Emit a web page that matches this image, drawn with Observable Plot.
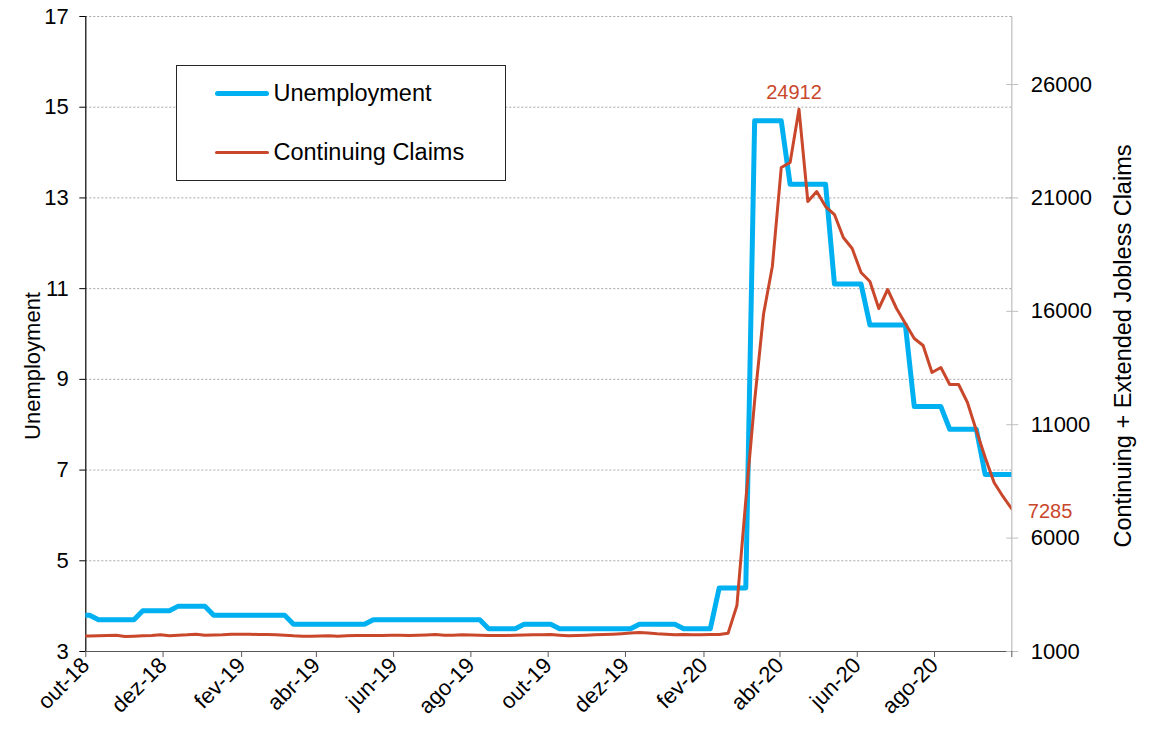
<!DOCTYPE html>
<html>
<head>
<meta charset="utf-8">
<script src="https://cdn.jsdelivr.net/npm/d3@7"></script>
<script src="https://cdn.jsdelivr.net/npm/@observablehq/plot@0.6"></script>
<style>
  html, body { margin: 0; padding: 0; background: #fff; }
  #chart { position: relative; width: 1159px; height: 734px; font-family: "Liberation Sans", Arial, sans-serif; }
  #chart svg { position: absolute; left: 0; top: 0; }
  .legend { position: absolute; left: 175.5px; top: 64.5px; width: 330px; height: 116.5px;
            border: 1px solid #262626; box-sizing: border-box; background: #fff; }
  .legend .item { position: absolute; left: 0; height: 30px; display: flex; align-items: center; }
  .legend .swatch { margin-left: 38px; width: 54px; border-radius: 3px; }
  .legend .name { margin-left: 5px; font-size: 23.5px; color: #000; white-space: nowrap; }
</style>
</head>
<body>
<div id="chart"></div>
<script>
// Weekly observations, one every Thursday starting from this date
const firstWeek = "2018-09-27";

// Unemployment rate (%) attached to each weekly observation
const unemployment = [
  3.8, 3.8,
  3.7, 3.7, 3.7, 3.7, 3.7,
  3.9, 3.9, 3.9, 3.9,
  4.0, 4.0, 4.0, 4.0,
  3.8, 3.8, 3.8, 3.8, 3.8, 3.8, 3.8, 3.8, 3.8,
  3.6, 3.6, 3.6, 3.6, 3.6, 3.6, 3.6, 3.6, 3.6,
  3.7, 3.7, 3.7, 3.7, 3.7, 3.7, 3.7, 3.7, 3.7, 3.7, 3.7, 3.7, 3.7,
  3.5, 3.5, 3.5, 3.5,
  3.6, 3.6, 3.6, 3.6,
  3.5, 3.5, 3.5, 3.5, 3.5, 3.5, 3.5, 3.5, 3.5,
  3.6, 3.6, 3.6, 3.6, 3.6,
  3.5, 3.5, 3.5, 3.5,
  4.4, 4.4, 4.4, 4.4,
  14.7, 14.7, 14.7, 14.7,
  13.3, 13.3, 13.3, 13.3, 13.3,
  11.1, 11.1, 11.1, 11.1,
  10.2, 10.2, 10.2, 10.2, 10.2,
  8.4, 8.4, 8.4, 8.4,
  7.9, 7.9, 7.9, 7.9,
  6.9, 6.9, 6.9, 6.9
];

// Continuing + extended jobless claims (thousands), same weeks
const claims = [
  1675, 1683, 1692, 1705, 1720, 1660, 1675, 1697, 1705, 1735,
  1692, 1720, 1735, 1765, 1720, 1727, 1735, 1765, 1765, 1765,
  1750, 1750, 1742, 1720, 1692, 1675, 1675, 1683, 1692, 1675,
  1692, 1705, 1705, 1705, 1705, 1720, 1720, 1705, 1712, 1727,
  1750, 1720, 1712, 1735, 1727, 1720, 1705, 1705, 1705, 1720,
  1727, 1735, 1742, 1750, 1720, 1697, 1705, 1720, 1742, 1750,
  1765, 1787, 1816, 1838, 1816, 1780, 1765, 1735, 1750, 1742,
  1742, 1750, 1750, 1800, 3028, 7658, 12067, 15870, 17990, 22341,
  22562, 24912, 20842, 21283, 20621, 20268, 19255, 18769, 17710, 17313,
  16124, 16962, 16124, 15463, 14801, 14493, 13302, 13523, 12773, 12773,
  11980, 10745, 9554, 8452, 7835, 7285
];

// Axis settings
const xStart = "2018-10-01";
const xEnd = "2020-10-01";
const monthNames = ["jan", "fev", "mar", "abr", "mai", "jun", "jul", "ago", "set", "out", "nov", "dez"];
const unemploymentTicks = [3, 5, 7, 9, 11, 13, 15, 17];
const claimTicks = [1000, 6000, 11000, 16000, 21000, 26000];
const claimRange = [1000, 29000];

const seriesNames = ["Unemployment", "Continuing Claims"];
const titles = { left: "Unemployment", right: "Continuing + Extended Jobless Claims" };
const colors = { unemployment: "#00b0f0", claims: "#c9472b" };
const FONT = '"Liberation Sans", Arial, sans-serif';

// Claims share the left y scale through a linear rescaling onto [3, 17]
const uDomain = [unemploymentTicks[0], unemploymentTicks[unemploymentTicks.length - 1]];
const toU = v => uDomain[0] + (v - claimRange[0]) / (claimRange[1] - claimRange[0]) * (uDomain[1] - uDomain[0]);
const fromU = u => claimRange[0] + (u - uDomain[0]) / (uDomain[1] - uDomain[0]) * (claimRange[1] - claimRange[0]);

const t0 = new Date(firstWeek + "T00:00:00Z");
const weeks = unemployment.map((u, i) => ({
  date: d3.utcDay.offset(t0, 7 * i),
  unemployment: u,
  claims: claims[i]
}));

const x0 = new Date(xStart + "T00:00:00Z");
const x1 = new Date(xEnd + "T00:00:00Z");
// a tick every two months, starting at the left edge
const xTicks = d3.utcMonth.range(x0, d3.utcDay.offset(x1, 1), 2);
const xLabel = d => (+d === +x1) ? "" : `${monthNames[d.getUTCMonth()]}-${String(d.getUTCFullYear()).slice(2)}`;

const peak = d3.greatest(weeks, d => d.claims);
const last = weeks[weeks.length - 1];

const chart = Plot.plot({
  width: 1159,
  height: 734,
  marginLeft: 85.3,
  marginRight: 147.7,
  marginTop: 16,
  marginBottom: 83,
  style: { fontFamily: FONT, fontSize: "22px", color: "#000", background: "transparent", overflow: "visible" },
  x: { type: "utc", domain: [x0, x1] },
  y: { domain: uDomain },
  marks: [
    Plot.gridY(unemploymentTicks.filter(t => t > uDomain[0]), { stroke: "#a6a6a6", strokeOpacity: 1, strokeDasharray: "2,2" }),
    // axis lines
    Plot.ruleX([x1], { stroke: "#bfbfbf", strokeWidth: 1.2 }),
    Plot.ruleY([uDomain[0]], { stroke: "#595959", strokeWidth: 1.2 }),
    Plot.ruleX([x0], { stroke: "#000", strokeWidth: 1.2 }),
    // left axis
    Plot.axisY(unemploymentTicks, { anchor: "left", tickSize: 6, tickPadding: 11, label: null, fontSize: 22, stroke: "#000" }),
    // right axis (claims)
    Plot.axisY(claimTicks.map(toU), {
      anchor: "right", tickSize: 12, dx: -6, tickPadding: 13, label: null, fontSize: 22,
      stroke: "#bfbfbf", fill: "#000",
      tickFormat: u => String(Math.round(fromU(u)))
    }),
    // bottom axis
    Plot.axisX(xTicks, { tickSize: 6, tickRotate: -45, tickPadding: 4, tickFormat: xLabel, label: null, fontSize: 22, stroke: "#595959", fill: "#000" }),
    // series
    Plot.line(weeks, { x: "date", y: "unemployment", stroke: colors.unemployment, strokeWidth: 5, strokeLinejoin: "round", clip: true }),
    Plot.line(weeks, { x: "date", y: d => toU(d.claims), stroke: colors.claims, strokeWidth: 3, strokeLinejoin: "round", clip: true }),
    // value labels
    Plot.text([peak], { x: "date", y: d => toU(d.claims), text: d => String(d.claims), fill: colors.claims, fontSize: 20, dy: -17, dx: -5 }),
    Plot.text([last], { x: "date", y: d => toU(d.claims), text: d => String(d.claims), fill: colors.claims, fontSize: 20, textAnchor: "start", dx: 16, dy: 3 }),
    // axis titles
    Plot.text([titles.left], { frameAnchor: "left", textAnchor: "middle", text: d => d, rotate: -90, dx: -53, dy: 32, fontSize: 22, fill: "#000" }),
    Plot.text([titles.right], { frameAnchor: "right", textAnchor: "middle", text: d => d, rotate: -90, dx: 112, dy: 12, fontSize: 23.5, fill: "#000" })
  ]
});

const root = document.getElementById("chart");
root.appendChild(chart);

// legend box inside the plot area
const legend = document.createElement("div");
legend.className = "legend";
const items = [
  { name: seriesNames[0], color: colors.unemployment, w: 5, top: 13 },
  { name: seriesNames[1], color: colors.claims, w: 3, top: 72 }
];
for (const it of items) {
  const row = document.createElement("div");
  row.className = "item";
  row.style.top = it.top + "px";
  const sw = document.createElement("div");
  sw.className = "swatch";
  sw.style.height = it.w + "px";
  sw.style.background = it.color;
  const nm = document.createElement("span");
  nm.className = "name";
  nm.textContent = it.name;
  row.appendChild(sw);
  row.appendChild(nm);
  legend.appendChild(row);
}
root.appendChild(legend);
</script>
</body>
</html>
